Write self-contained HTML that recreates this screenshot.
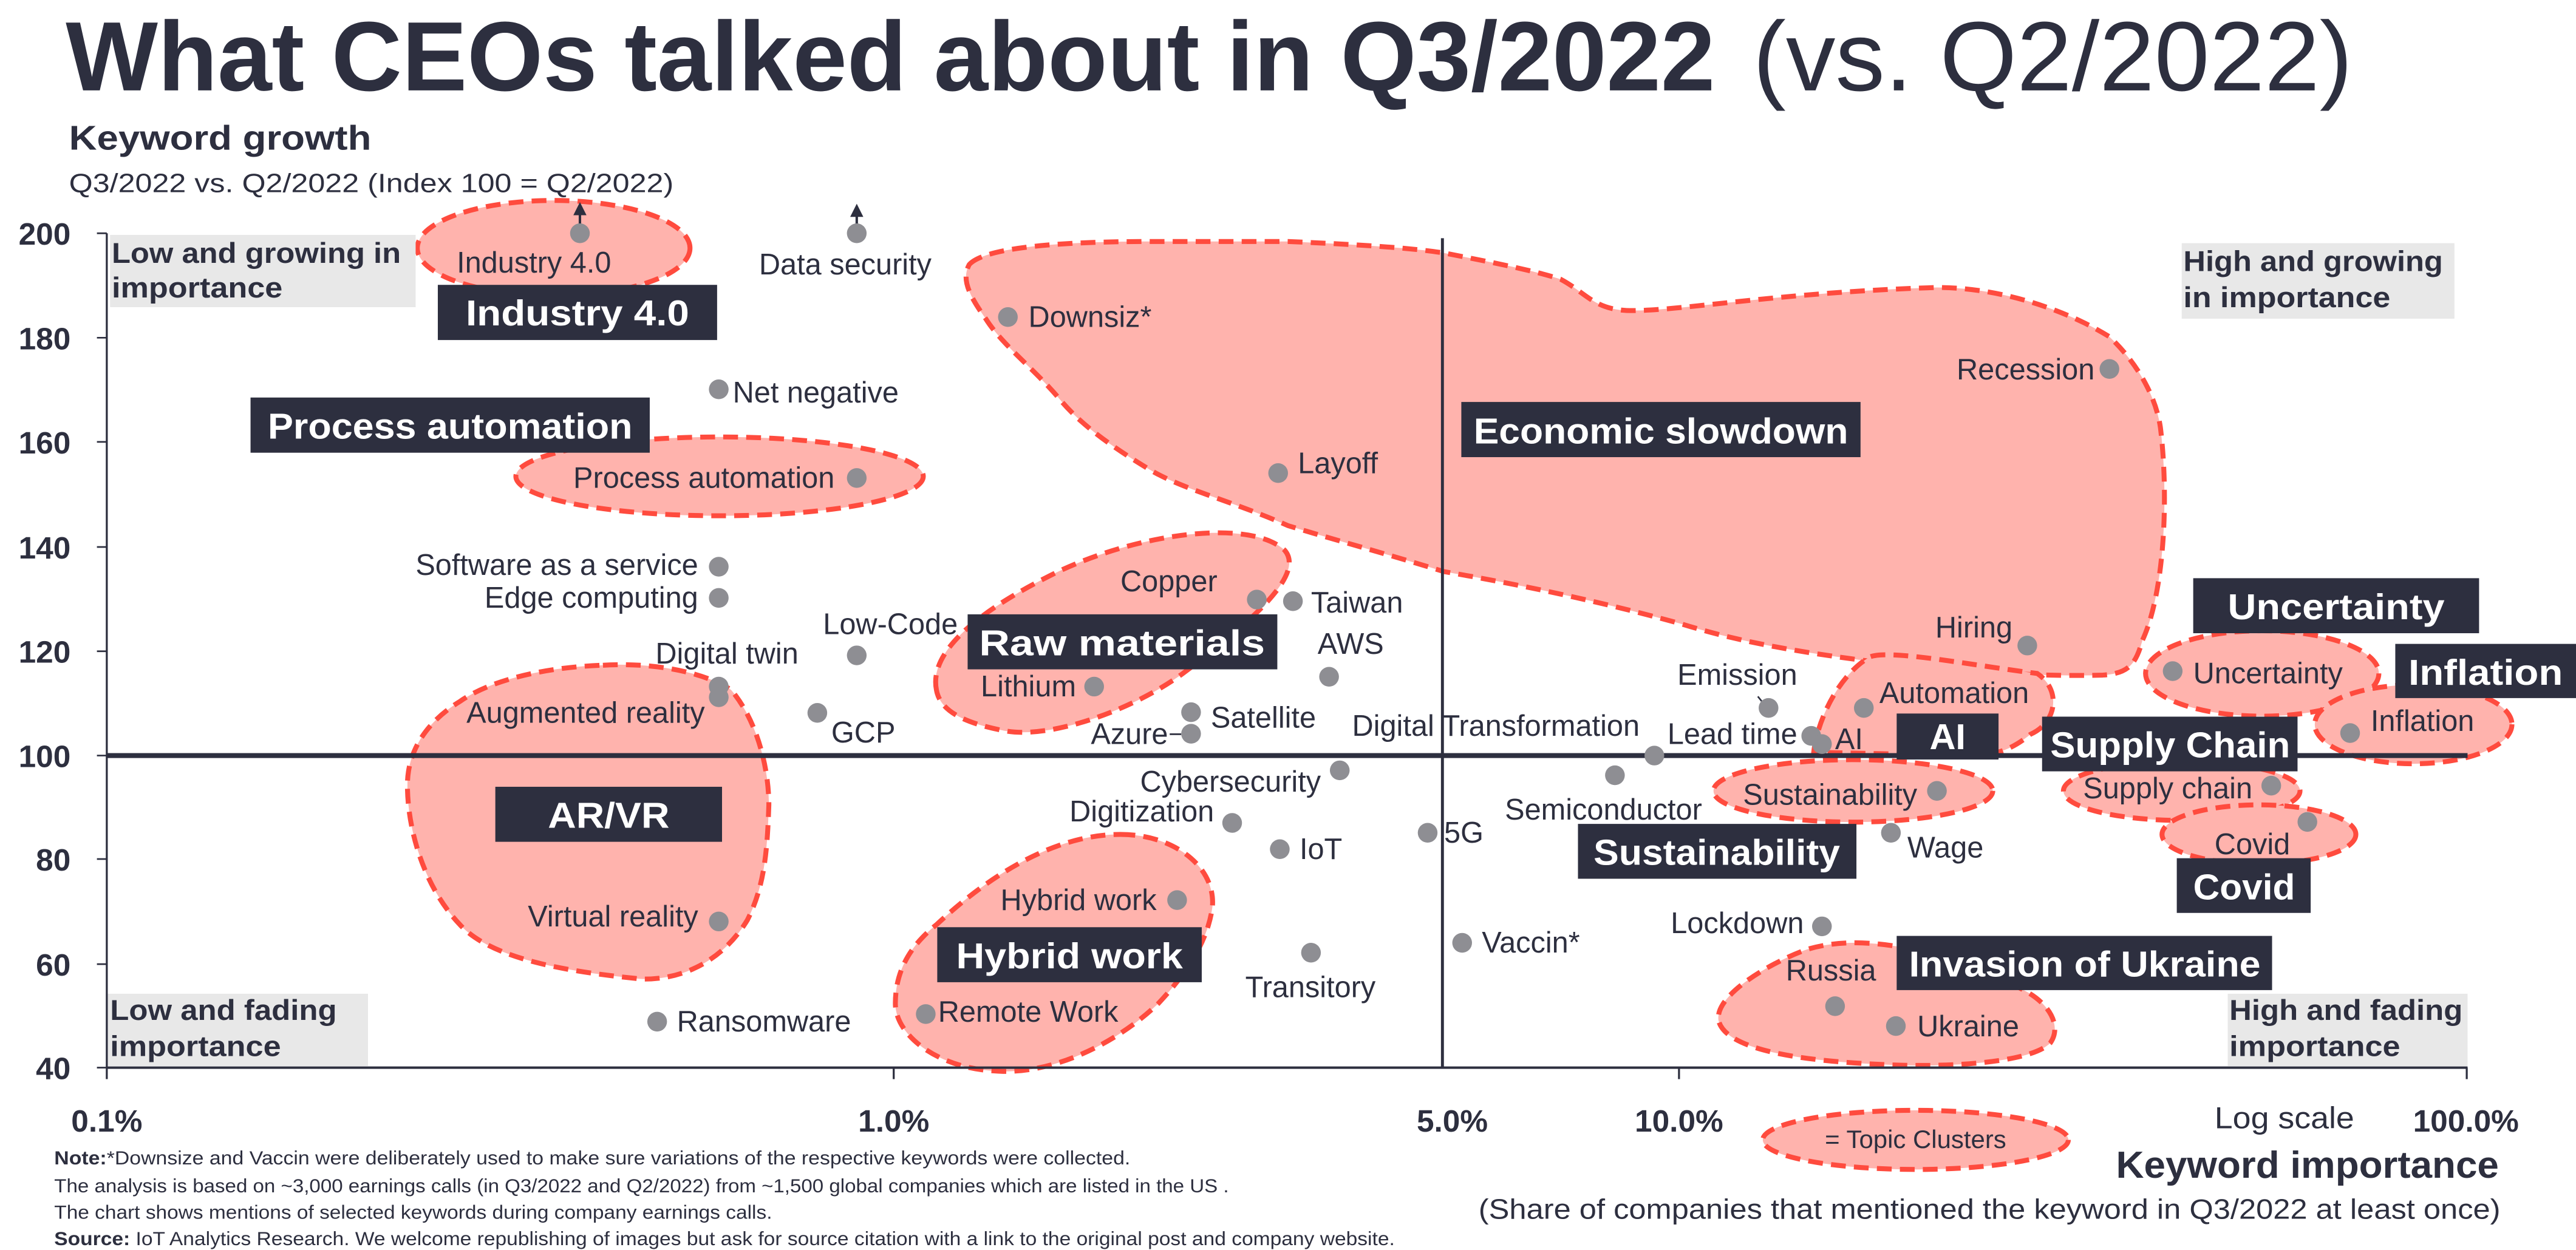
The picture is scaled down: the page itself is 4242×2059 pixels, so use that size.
<!DOCTYPE html>
<html><head><meta charset="utf-8"><style>
html,body{margin:0;padding:0;background:#fff;}
svg{display:block;}
text{font-family:"Liberation Sans",sans-serif;fill:#2d2f3f;}
.b{font-weight:bold;}
.l{font-size:18px;}
.w{fill:#fff;font-weight:bold;}
.blob{fill:#ffb3ad;stroke:#ff4b3e;stroke-width:3;stroke-dasharray:9 5;}
.dot{fill:#8e8e93;}
.box{fill:#2d2f3f;}
.q{fill:#e8e8e8;}
</style></head><body>
<svg width="4242" height="2059" viewBox="0 0 1568 761" xmlns="http://www.w3.org/2000/svg">
<rect width="1568" height="761" fill="#fff"/>
<text x="40" y="55" class="b" font-size="60" textLength="1004" lengthAdjust="spacingAndGlyphs">What CEOs talked about in Q3/2022</text>
<text x="1067" y="55" font-size="60" textLength="365" lengthAdjust="spacingAndGlyphs">(vs. Q2/2022)</text>
<text x="42" y="91" class="b" font-size="21" textLength="184" lengthAdjust="spacingAndGlyphs">Keyword growth</text>
<text x="42" y="117" font-size="16" textLength="368" lengthAdjust="spacingAndGlyphs">Q3/2022 vs. Q2/2022 (Index 100 = Q2/2022)</text>

<ellipse class="blob" cx="337" cy="151" rx="83" ry="29"/>
<ellipse class="blob" cx="438" cy="290" rx="124" ry="24"/>
<path class="blob" d="M590,161 C600,150 650,147 700,147 L784,147 C830,149 860,151 879,154 C910,160 935,165 950,170 C965,178 970,188 990,189 C1020,190 1080,178 1179,175 C1220,175 1260,190 1284,205 C1300,220 1312,240 1315,260 C1320,300 1318,360 1304,390 C1300,405 1295,410 1280,411 C1250,412 1200,410 1134,402 C1080,395 1050,388 1024,380 C970,365 920,355 879,348 C840,336 810,328 784,320 C750,305 720,298 700,286 C670,268 655,255 645,243 C630,225 610,210 600,194 C590,180 585,170 590,161 Z"/>
<path class="blob" d="M570,420 C565,395 600,370 640,350 C690,325 760,315 782,335 C795,350 760,380 720,410 C690,432 640,450 612,445 C585,440 572,432 570,420 Z"/>
<path class="blob" d="M367,405 C400,403 430,410 445,420 C462,440 468,470 468,490 C467,520 465,540 455,560 C440,585 415,597 390,596 C350,592 300,585 280,563 C258,540 248,505 248,478 C248,455 262,438 280,427 C300,413 335,406 367,405 Z"/>
<path class="blob" d="M682,508 C715,508 740,528 738,552 C735,575 720,595 705,611 C680,635 640,655 605,652 C570,650 545,630 545,611 C545,590 555,575 570,563 C600,535 640,508 682,508 Z"/>
<path class="blob" d="M1104,458 C1106,440 1118,412 1138,400 C1150,395 1200,405 1240,410 C1255,420 1252,440 1236,447 C1225,456 1215,460 1200,460 Z"/>
<ellipse class="blob" cx="1128" cy="481.5" rx="85" ry="19"/>
<ellipse class="blob" cx="1377" cy="410" rx="71" ry="26"/>
<ellipse class="blob" cx="1469" cy="441" rx="60" ry="24"/>
<ellipse class="blob" cx="1328" cy="481.5" rx="72" ry="18"/>
<ellipse class="blob" cx="1375" cy="508" rx="59" ry="18"/>
<path class="blob" d="M1129,574 C1160,574 1200,585 1234,604 C1248,612 1255,625 1248,635 C1235,648 1180,650 1144,648 C1100,646 1050,640 1046,621 C1044,605 1080,585 1100,578 C1110,575 1120,574 1129,574 Z"/>
<ellipse class="blob" cx="1166" cy="694" rx="93" ry="18"/>
<text x="1166" y="699" font-size="15.5" text-anchor="middle">= Topic Clusters</text>

<rect class="q" x="67" y="143" width="186" height="44"/>
<text x="68" y="160" class="b" font-size="17.5" textLength="176" lengthAdjust="spacingAndGlyphs">Low and growing in</text>
<text x="68" y="181" class="b" font-size="17.5" textLength="104" lengthAdjust="spacingAndGlyphs">importance</text>
<rect class="q" x="1328" y="148" width="166" height="46"/>
<text x="1329" y="165" class="b" font-size="17.5" textLength="158" lengthAdjust="spacingAndGlyphs">High and growing</text>
<text x="1329" y="187" class="b" font-size="17.5" textLength="126" lengthAdjust="spacingAndGlyphs">in importance</text>
<rect class="q" x="65" y="605" width="159" height="44"/>
<text x="67" y="621" class="b" font-size="17.5" textLength="138" lengthAdjust="spacingAndGlyphs">Low and fading</text>
<text x="67" y="643" class="b" font-size="17.5" textLength="104" lengthAdjust="spacingAndGlyphs">importance</text>
<rect class="q" x="1356" y="605" width="146" height="44"/>
<text x="1357" y="621" class="b" font-size="17.5" textLength="142" lengthAdjust="spacingAndGlyphs">High and fading</text>
<text x="1357" y="643" class="b" font-size="17.5" textLength="104" lengthAdjust="spacingAndGlyphs">importance</text>

<g stroke="#2d2f3f">
<line x1="65" y1="142" x2="65" y2="657" stroke-width="1.2"/>
<line x1="65" y1="650" x2="1502" y2="650" stroke-width="1.5"/>
<line x1="65" y1="460" x2="1502" y2="460" stroke-width="3"/>
<line x1="878" y1="145" x2="878" y2="650" stroke-width="1.8"/>
<line x1="544" y1="650" x2="544" y2="657" stroke-width="1.2"/>
<line x1="1022" y1="650" x2="1022" y2="657" stroke-width="1.2"/>
<line x1="1501.5" y1="650" x2="1501.5" y2="657" stroke-width="1.2"/>
<line x1="59" y1="142" x2="65" y2="142"/><line x1="59" y1="205.6" x2="65" y2="205.6"/>
<line x1="59" y1="269" x2="65" y2="269"/><line x1="59" y1="333" x2="65" y2="333"/>
<line x1="59" y1="396.5" x2="65" y2="396.5"/><line x1="59" y1="460" x2="65" y2="460"/>
<line x1="59" y1="523" x2="65" y2="523"/><line x1="59" y1="587" x2="65" y2="587"/>
<line x1="59" y1="650" x2="65" y2="650"/>
</g>
<g class="b" font-size="19" text-anchor="end">
<text x="43" y="149">200</text><text x="43" y="212.6">180</text><text x="43" y="276">160</text>
<text x="43" y="340">140</text><text x="43" y="403.5">120</text><text x="43" y="467">100</text>
<text x="43" y="530">80</text><text x="43" y="594">60</text><text x="43" y="657">40</text>
</g>
<g class="b" font-size="19" text-anchor="middle">
<text x="65" y="689">0.1%</text><text x="544" y="689">1.0%</text><text x="884" y="689">5.0%</text>
<text x="1022" y="689">10.0%</text><text x="1501" y="689">100.0%</text>
</g>
<text x="1348" y="687" font-size="18.5" textLength="85" lengthAdjust="spacingAndGlyphs">Log scale</text>
<text x="1288" y="717" class="b" font-size="23" textLength="233" lengthAdjust="spacingAndGlyphs">Keyword importance</text>
<text x="900" y="742" font-size="17" textLength="622" lengthAdjust="spacingAndGlyphs">(Share of companies that mentioned the keyword in Q3/2022 at least once)</text>

<g font-size="11.5">
<text x="33" y="709" textLength="655" lengthAdjust="spacingAndGlyphs"><tspan class="b">Note:</tspan>*Downsize and Vaccin were deliberately used to make sure variations of the respective keywords were collected.</text>
<text x="33" y="726" textLength="715" lengthAdjust="spacingAndGlyphs">The analysis is based on ~3,000 earnings calls (in Q3/2022 and Q2/2022) from ~1,500 global companies which are listed in the US .</text>
<text x="33" y="742" textLength="437" lengthAdjust="spacingAndGlyphs">The chart shows mentions of selected keywords during company earnings calls.</text>
<text x="33" y="758" textLength="816" lengthAdjust="spacingAndGlyphs"><tspan class="b">Source:</tspan> IoT Analytics Research. We welcome republishing of images but ask for source citation with a link to the original post and company website.</text>
</g>

<g stroke="#2d2f3f" stroke-width="1.5"><line x1="353" y1="130" x2="353" y2="138"/><line x1="521.5" y1="130" x2="521.5" y2="138"/></g>
<polygon points="353,123 349,131 357,131" fill="#2d2f3f"/>
<polygon points="521.5,124 517.5,132 525.5,132" fill="#2d2f3f"/>
<line x1="712" y1="447" x2="719" y2="447" stroke="#2d2f3f" stroke-width="1"/>
<line x1="1070" y1="424" x2="1074" y2="429" stroke="#2d2f3f" stroke-width="1"/>

<g class="dot">
<circle cx="353" cy="142" r="6"/><circle cx="521.5" cy="142" r="6"/><circle cx="613.5" cy="193" r="6"/>
<circle cx="437.5" cy="237" r="6"/><circle cx="521.5" cy="291" r="6"/><circle cx="437.5" cy="345" r="6"/>
<circle cx="437.5" cy="364" r="6"/><circle cx="765" cy="365" r="6"/><circle cx="787" cy="366" r="6"/>
<circle cx="778" cy="288" r="6"/><circle cx="1284" cy="224.6" r="6"/><circle cx="1234" cy="393" r="6"/>
<circle cx="521.5" cy="399" r="6"/><circle cx="437.5" cy="418" r="6"/><circle cx="437.5" cy="424.5" r="6"/>
<circle cx="666" cy="418" r="6"/><circle cx="497.5" cy="434" r="6"/><circle cx="725" cy="433.6" r="6"/>
<circle cx="725" cy="446.7" r="6"/><circle cx="809" cy="412" r="6"/><circle cx="1007" cy="460" r="6"/>
<circle cx="815.5" cy="469" r="6"/><circle cx="750" cy="501" r="6"/><circle cx="779" cy="517" r="6"/>
<circle cx="869" cy="507" r="6"/><circle cx="983" cy="472" r="6"/><circle cx="1076.5" cy="431" r="6"/>
<circle cx="1102.5" cy="448" r="6"/><circle cx="1109" cy="453" r="6"/><circle cx="1134.5" cy="431" r="6"/>
<circle cx="1179" cy="481.5" r="6"/><circle cx="1151" cy="507" r="6"/><circle cx="1322.5" cy="408.6" r="6"/>
<circle cx="1430.5" cy="446.3" r="6"/><circle cx="1382.5" cy="478.3" r="6"/><circle cx="1404.5" cy="500.4" r="6"/>
<circle cx="1109" cy="564" r="6"/><circle cx="890" cy="574" r="6"/><circle cx="798" cy="580" r="6"/>
<circle cx="1117" cy="612.6" r="6"/><circle cx="1154" cy="624.7" r="6"/><circle cx="716.5" cy="548" r="6"/>
<circle cx="563.5" cy="617.4" r="6"/><circle cx="400" cy="622" r="6"/><circle cx="437.5" cy="561" r="6"/>
</g>

<g class="l">
<text x="278" y="166">Industry 4.0</text>
<text x="462" y="167">Data security</text>
<text x="626" y="199">Downsiz*</text>
<text x="446" y="245">Net negative</text>
<text x="508" y="297" text-anchor="end">Process automation</text>
<text x="425" y="350" text-anchor="end">Software as a service</text>
<text x="425" y="370" text-anchor="end">Edge computing</text>
<text x="741" y="360" text-anchor="end">Copper</text>
<text x="798" y="373">Taiwan</text>
<text x="790" y="288">Layoff</text>
<text x="1275" y="231" text-anchor="end">Recession</text>
<text x="1225" y="388" text-anchor="end">Hiring</text>
<text x="583" y="386" text-anchor="end">Low-Code</text>
<text x="486" y="404" text-anchor="end">Digital twin</text>
<text x="429" y="440" text-anchor="end">Augmented reality</text>
<text x="655" y="424" text-anchor="end">Lithium</text>
<text x="506" y="452">GCP</text>
<text x="737" y="443">Satellite</text>
<text x="711" y="453" text-anchor="end">Azure</text>
<text x="802" y="398">AWS</text>
<text x="823" y="448">Digital Transformation</text>
<text x="804" y="482" text-anchor="end">Cybersecurity</text>
<text x="739" y="500" text-anchor="end">Digitization</text>
<text x="791" y="523">IoT</text>
<text x="879" y="513">5G</text>
<text x="916" y="499">Semiconductor</text>
<text x="1094" y="417" text-anchor="end">Emission</text>
<text x="1094" y="453" text-anchor="end">Lead time</text>
<text x="1117" y="456">AI</text>
<text x="1144" y="428">Automation</text>
<text x="1167" y="490" text-anchor="end">Sustainability</text>
<text x="1161" y="522">Wage</text>
<text x="1335" y="416">Uncertainty</text>
<text x="1443" y="445">Inflation</text>
<text x="1371" y="486" text-anchor="end">Supply chain</text>
<text x="1394" y="520" text-anchor="end">Covid</text>
<text x="1098" y="568" text-anchor="end">Lockdown</text>
<text x="902" y="580">Vaccin*</text>
<text x="758" y="607">Transitory</text>
<text x="1142" y="597" text-anchor="end">Russia</text>
<text x="1167" y="631">Ukraine</text>
<text x="704" y="554" text-anchor="end">Hybrid work</text>
<text x="571" y="622">Remote Work</text>
<text x="412" y="628">Ransomware</text>
<text x="425" y="564" text-anchor="end">Virtual reality</text>
</g>

<rect class="box" x="266.5" y="173.4" width="170" height="33.6"/>
<text class="w" x="351.5" y="198" font-size="22" text-anchor="middle" textLength="136" lengthAdjust="spacingAndGlyphs">Industry 4.0</text>
<rect class="box" x="152.5" y="242" width="243" height="33.6"/>
<text class="w" x="274" y="267" font-size="22" text-anchor="middle" textLength="222" lengthAdjust="spacingAndGlyphs">Process automation</text>
<rect class="box" x="889.5" y="244.7" width="243" height="33.6"/>
<text class="w" x="1011" y="270" font-size="22" text-anchor="middle" textLength="228" lengthAdjust="spacingAndGlyphs">Economic slowdown</text>
<rect class="box" x="1335" y="352" width="174" height="33.5"/>
<text class="w" x="1422" y="377" font-size="22" text-anchor="middle" textLength="132" lengthAdjust="spacingAndGlyphs">Uncertainty</text>
<rect class="box" x="589" y="374" width="188.5" height="33.5"/>
<text class="w" x="683" y="399" font-size="22" text-anchor="middle" textLength="174" lengthAdjust="spacingAndGlyphs">Raw materials</text>
<rect class="box" x="301.5" y="479" width="138" height="33.5"/>
<text class="w" x="370.5" y="504" font-size="22" text-anchor="middle" textLength="74" lengthAdjust="spacingAndGlyphs">AR/VR</text>
<rect class="box" x="570.5" y="564.5" width="161" height="33.5"/>
<text class="w" x="651" y="589.5" font-size="22" text-anchor="middle" textLength="138" lengthAdjust="spacingAndGlyphs">Hybrid work</text>
<rect class="box" x="1458" y="392" width="110" height="33"/>
<text class="w" x="1513" y="417" font-size="22" text-anchor="middle" textLength="94" lengthAdjust="spacingAndGlyphs">Inflation</text>
<rect class="box" x="1154.5" y="434.4" width="62" height="28"/>
<text class="w" x="1185.5" y="456" font-size="22" text-anchor="middle" textLength="22" lengthAdjust="spacingAndGlyphs">AI</text>
<rect class="box" x="1243" y="436.3" width="155.5" height="33.3"/>
<text class="w" x="1321" y="461" font-size="22" text-anchor="middle" textLength="146" lengthAdjust="spacingAndGlyphs">Supply Chain</text>
<rect class="box" x="960.5" y="501.6" width="169.5" height="33.4"/>
<text class="w" x="1045" y="526.5" font-size="22" text-anchor="middle" textLength="150" lengthAdjust="spacingAndGlyphs">Sustainability</text>
<rect class="box" x="1325" y="522.5" width="81.5" height="33.3"/>
<text class="w" x="1366" y="547.5" font-size="22" text-anchor="middle" textLength="62" lengthAdjust="spacingAndGlyphs">Covid</text>
<rect class="box" x="1154.5" y="569.8" width="228.5" height="33"/>
<text class="w" x="1269" y="594.5" font-size="22" text-anchor="middle" textLength="214" lengthAdjust="spacingAndGlyphs">Invasion of Ukraine</text>
</svg>
</body></html>
